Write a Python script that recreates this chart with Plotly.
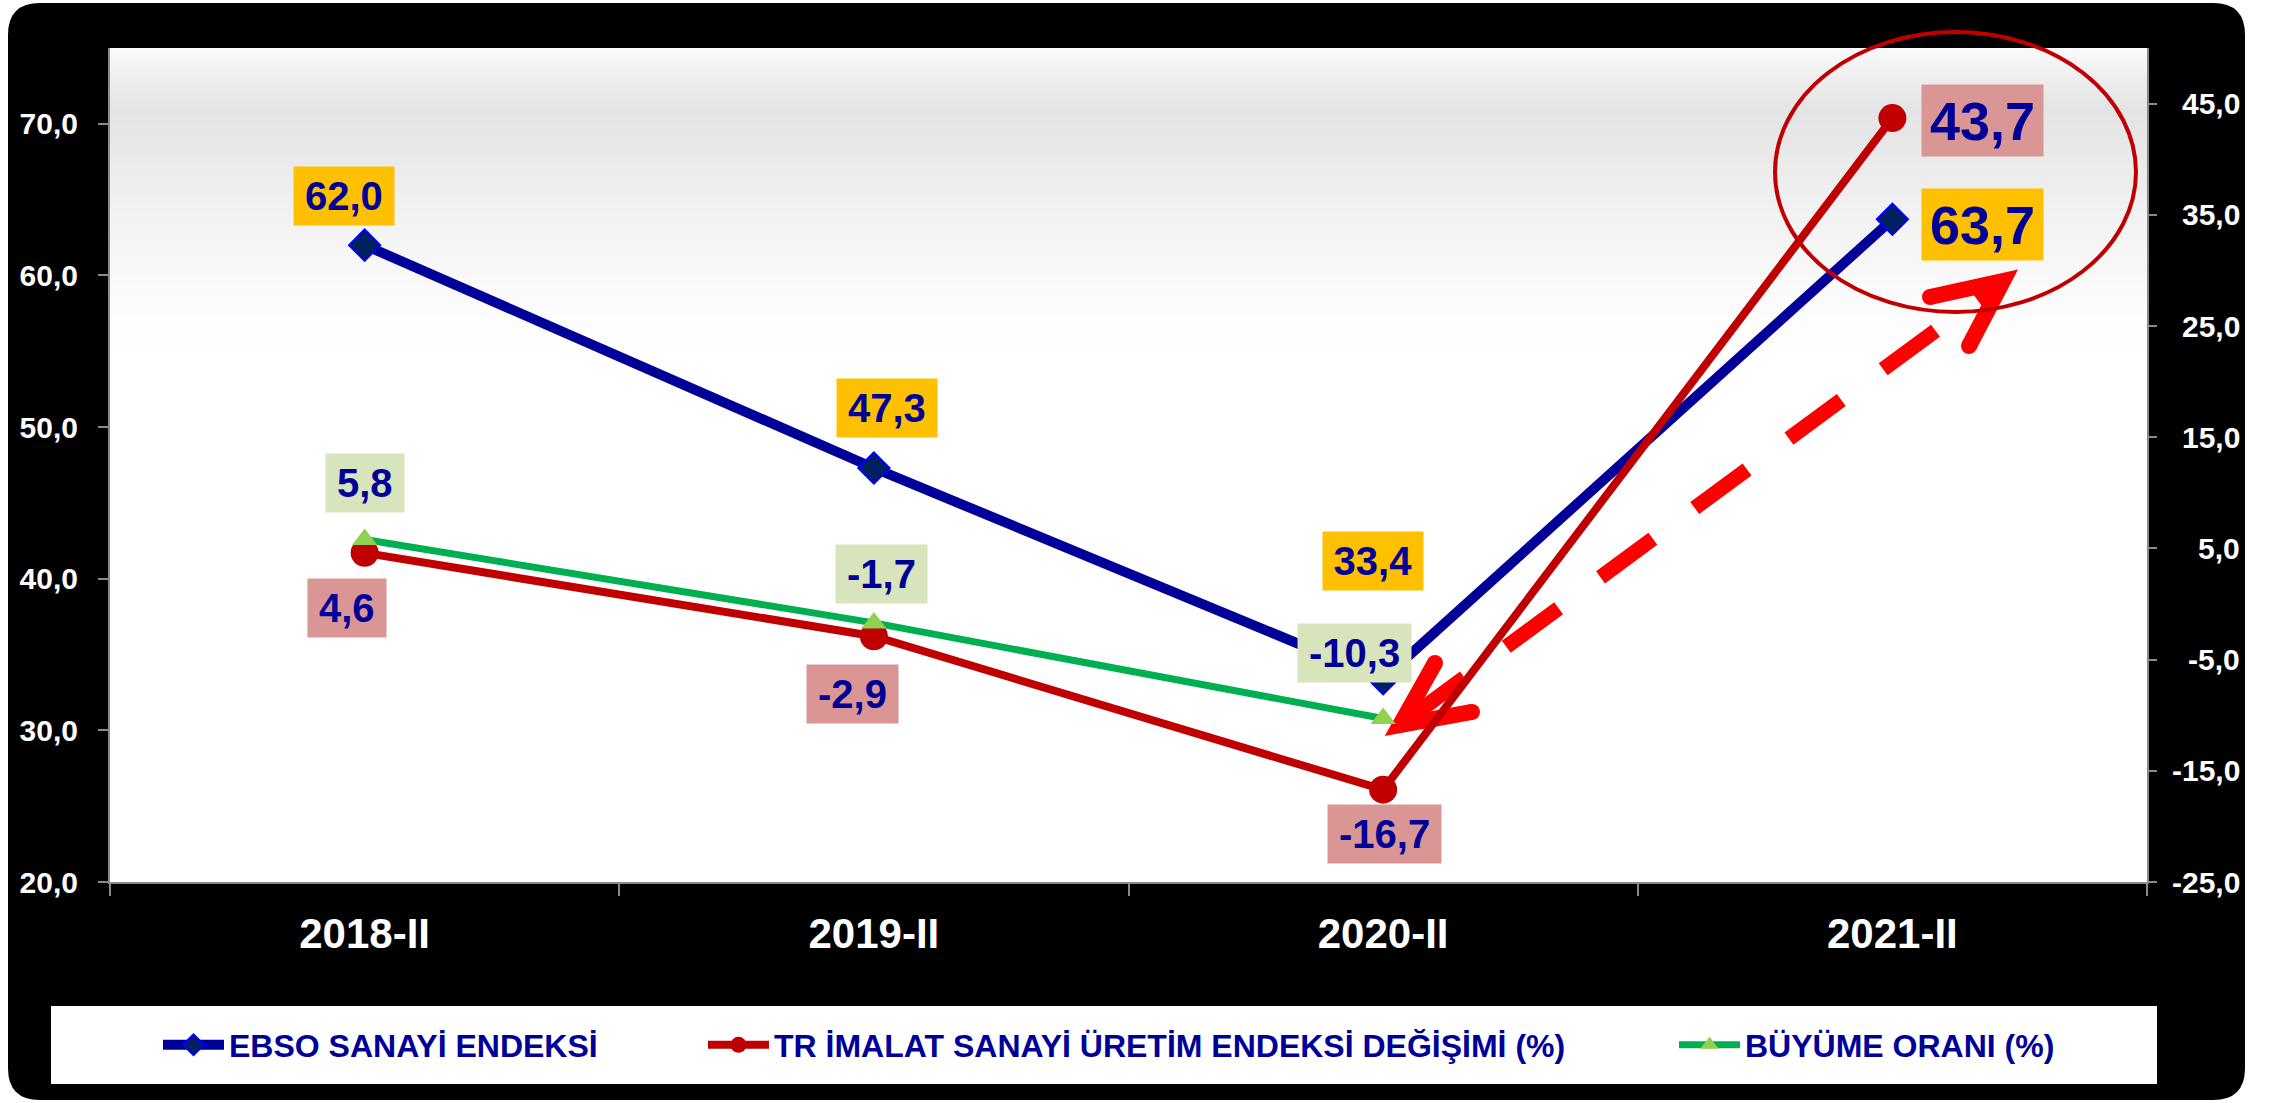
import plotly.graph_objects as go

# ---------------- data ----------------
categories = ["2018-II", "2019-II", "2020-II", "2021-II"]
ebso_index = [62.0, 47.3, 33.4, 63.7]
tr_manufacturing_change = [4.6, -2.9, -16.7, 43.7]
growth_rate = [5.8, -1.7, -10.3, None]

series_names = [
    "EBSO SANAYİ ENDEKSİ",
    "TR İMALAT SANAYİ ÜRETİM ENDEKSİ DEĞİŞİMİ (%)",
    "BÜYÜME ORANI (%)",
]
left_tick_values = [20, 30, 40, 50, 60, 70]
right_tick_values = [-25, -15, -5, 5, 15, 25, 35, 45]

# ---------------- geometry / style ----------------
W, H = 2282, 1103
PL, PR, PT, PB = 110, 2147, 48, 882
FONT = "Liberation Sans, Arial, sans-serif"
LABEL_BLUE = "#000099"
AXIS_GREY = "#8a8a8a"


def px(x):
    return (x - PL) / (PR - PL)


def py(y):
    return (PB - y) / (PB - PT)


def fmt(v):
    return f"{v:.1f}".replace(".", ",")


CHAR_W = {"-": 0.333, ",": 0.278}


def text_w(s, size):
    return sum(CHAR_W.get(c, 0.556) for c in s) * size


fig = go.Figure()

fig.add_trace(go.Scatter(
    x=categories, y=ebso_index, name=series_names[0], mode="lines+markers",
    line=dict(color="#000099", width=10),
    marker=dict(symbol="diamond", size=24, color="#002060", line=dict(color="#0000FF", width=2)),
    yaxis="y", legend="legend", hoverinfo="skip"))
fig.add_trace(go.Scatter(
    x=categories, y=tr_manufacturing_change, name=series_names[1], mode="lines+markers",
    line=dict(color="#C00000", width=8),
    marker=dict(symbol="circle", size=28, color="#C00000"),
    yaxis="y2", legend="legend2", hoverinfo="skip"))
fig.add_trace(go.Scatter(
    x=categories, y=growth_rate, name=series_names[2], mode="lines+markers",
    line=dict(color="#00B050", width=7),
    marker=dict(symbol="triangle-up", size=22, color="#92D050"),
    yaxis="y2", legend="legend3", hoverinfo="skip"))

# ---------------- data labels ----------------
ebso_offsets = [(-21, 49), (13, 60), (-10, 118), (90, -5)]
tr_offsets = [(-18, -55), (-21, -58), (1, -44), (90, -2)]
growth_offsets = [(0, 57), (8, 49), (-29, 66), (0, 0)]

label_specs = [
    (ebso_index, ebso_offsets, "y", "#FFC000"),
    (tr_manufacturing_change, tr_offsets, "y2", "#DA9694"),
    (growth_rate, growth_offsets, "y2", "#D8E4BC"),
]
annotations = []
for values, offsets, yref, bg in label_specs:
    for i, v in enumerate(values):
        if v is None:
            continue
        big = (i == len(categories) - 1)
        size = 54 if big else 40
        txt = fmt(v)
        annotations.append(dict(
            x=categories[i], y=v, xref="x", yref=yref, text=txt, showarrow=False,
            xshift=offsets[i][0], yshift=offsets[i][1],
            bgcolor=bg, borderpad=0,
            width=text_w(txt, size) + (16 if big else 22), height=71 if big else 58,
            font=dict(family=FONT, size=size, color=LABEL_BLUE, weight="bold"),
        ))

# right-axis tick labels (right-aligned, as in the original)
tick_font_y = dict(family=FONT, size=30, color="white", weight="bold")
for v in right_tick_values:
    annotations.append(dict(
        x=px(2242), xref="paper", xanchor="right", y=v, yref="y2", yanchor="middle",
        text=fmt(v), showarrow=False, font=tick_font_y))

# ---------------- decoration shapes ----------------
shapes = []

# black rounded frame
fx0, fy0, fx1, fy1, r = 8, 3, 2245, 1100, 32
pts = [
    ("M", fx0 + r, fy0), ("L", fx1 - r, fy0), ("Q", fx1, fy0, fx1, fy0 + r),
    ("L", fx1, fy1 - r), ("Q", fx1, fy1, fx1 - r, fy1), ("L", fx0 + r, fy1),
    ("Q", fx0, fy1, fx0, fy1 - r), ("L", fx0, fy0 + r), ("Q", fx0, fy0, fx0 + r, fy0),
]
path = ""
for p in pts:
    cmd = p[0]
    coords = p[1:]
    segs = []
    for k in range(0, len(coords), 2):
        segs.append(f"{px(coords[k]):.5f},{py(coords[k + 1]):.5f}")
    path += cmd + " ".join(segs) + " "
path += "Z"
shapes.append(dict(type="path", path=path, xref="paper", yref="paper",
                   fillcolor="black", line=dict(width=0), layer="below"))

# plot area white
shapes.append(dict(type="rect", xref="paper", yref="paper", x0=0, x1=1, y0=0, y1=1,
                   fillcolor="white", line=dict(width=0), layer="below"))

# plot area gradient band near the top
stops = [(48, 250), (80, 237), (110, 228), (140, 231), (200, 240), (260, 247), (320, 253), (360, 255)]


def grey_at(y):
    for (ya, ca), (yb, cb) in zip(stops[:-1], stops[1:]):
        if ya <= y <= yb:
            t = (y - ya) / (yb - ya)
            return round(ca + (cb - ca) * t)
    return 255


y = 48
while y < 360:
    g = grey_at(y + 1)
    shapes.append(dict(type="rect", xref="paper", yref="paper", x0=0, x1=1,
                       y0=py(y + 2.6), y1=py(y), fillcolor=f"rgb({g},{g},{g})",
                       line=dict(width=0), layer="below"))
    y += 2

# legend box
shapes.append(dict(type="rect", xref="paper", yref="paper", x0=px(51), x1=px(2157),
                   y0=py(1084), y1=py(1006), fillcolor="white", line=dict(width=0), layer="below"))

# red dashed double arrow
tip_lo = (1400, 725)
tip_hi = (2003, 281)
dx, dy = tip_hi[0] - tip_lo[0], tip_hi[1] - tip_lo[1]
L = (dx * dx + dy * dy) ** 0.5
ux, uy = dx / L, dy / L
start = (tip_lo[0] + 15 * ux, tip_lo[1] + 15 * uy)
shapes.append(dict(type="line", xref="paper", yref="paper",
                   x0=px(start[0]), y0=py(start[1]), x1=px(tip_hi[0] - 8 * ux), y1=py(tip_hi[1] - 8 * uy),
                   line=dict(color="#FF0000", width=15, dash="65px,52px"), layer="below"))
for a, tip, b in [((1930, 297), tip_hi, (1969, 346)), ((1435, 663), tip_lo, (1472, 712))]:
    shapes.append(dict(type="path", xref="paper", yref="paper",
                       path=f"M{px(a[0]):.5f},{py(a[1]):.5f} L{px(tip[0]):.5f},{py(tip[1]):.5f} L{px(b[0]):.5f},{py(b[1]):.5f}",
                       line=dict(color="#FF0000", width=16), layer="below"))
    for e in (a, b):
        shapes.append(dict(type="circle", xref="paper", yref="paper",
                           x0=px(e[0] - 8), x1=px(e[0] + 8), y0=py(e[1] + 8), y1=py(e[1] - 8),
                           fillcolor="#FF0000", line=dict(width=0), layer="below"))

# highlight ellipse
shapes.append(dict(type="circle", xref="paper", yref="paper",
                   x0=px(1775), x1=px(2136), y0=py(312), y1=py(32),
                   line=dict(color="#C00000", width=4), layer="above"))

# ---------------- layout ----------------
legend_common = dict(orientation="h", bgcolor="rgba(0,0,0,0)", borderwidth=0,
                     xanchor="left", yanchor="middle", y=py(1045), itemwidth=61,
                     font=dict(family=FONT, size=32, color=LABEL_BLUE, weight="bold"))

fig.update_layout(
    width=W, height=H,
    margin=dict(l=PL, r=W - PR, t=PT, b=H - PB, pad=0),
    paper_bgcolor="white", plot_bgcolor="rgba(0,0,0,0)",
    separators=",.",
    showlegend=True,
    legend=dict(x=px(158), **legend_common),
    legend2=dict(x=px(703), **legend_common),
    legend3=dict(x=px(1674), **legend_common),
    xaxis=dict(type="category", range=[-0.5, len(categories) - 0.5], autorange=False,
               showgrid=False, zeroline=False,
               showline=True, linecolor=AXIS_GREY, linewidth=2,
               ticks="outside", tickson="boundaries", ticklen=12, tickwidth=2, tickcolor=AXIS_GREY,
               tickfont=dict(family=FONT, size=42, color="white", weight="bold"),
               ticklabelstandoff=14),
    yaxis=dict(range=[20, 75], autorange=False, tickvals=left_tick_values,
               ticktext=[fmt(v) for v in left_tick_values],
               showgrid=False, zeroline=False, showline=True, linecolor=AXIS_GREY, linewidth=2,
               ticks="outside", ticklen=10, tickwidth=2, tickcolor=AXIS_GREY,
               tickfont=tick_font_y, ticklabelstandoff=14),
    yaxis2=dict(range=[-25, 50], autorange=False, tickvals=right_tick_values,
                showticklabels=False,
                overlaying="y", side="right",
                showgrid=False, zeroline=False, showline=True, linecolor=AXIS_GREY, linewidth=2,
                ticks="outside", ticklen=8, tickwidth=2, tickcolor=AXIS_GREY),
    shapes=shapes,
    annotations=annotations,
)

fig.write_html("out.html", config={"displayModeBar": False},
               post_script="document.body.style.margin='0';document.body.style.overflow='hidden';")
